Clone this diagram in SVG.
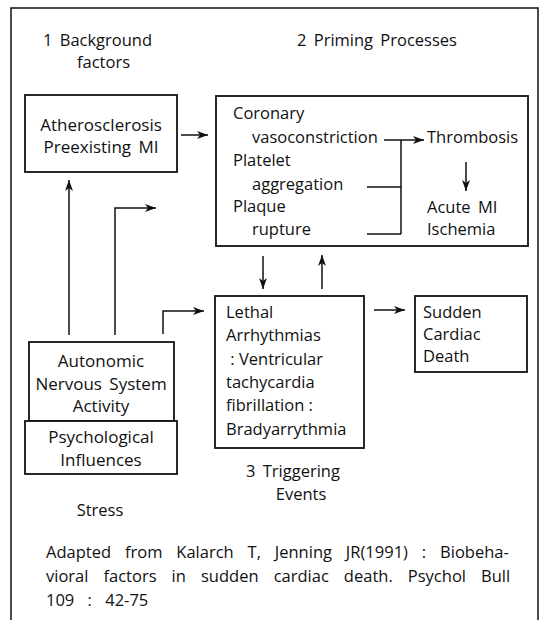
<svg xmlns="http://www.w3.org/2000/svg" width="544" height="620" viewBox="0 0 544 620">
<style>
text{font-family:"Open Sans","Noto Sans","DejaVu Sans",sans-serif;font-size:16.5px;fill:#111}
.c{text-anchor:middle}
.big{font-size:17px}
.box{fill:#fff;stroke:#111;stroke-width:1.8}
.ln{fill:none;stroke:#111;stroke-width:1.5}
.frame{fill:none;stroke:#111;stroke-width:1.5}
</style>
<defs>
<marker id="ah" markerUnits="userSpaceOnUse" markerWidth="12" markerHeight="10" refX="11" refY="5" orient="auto">
<path d="M0,1 L11,5 L0,9 L3,5 z" fill="#111"/>
</marker>
</defs>
<rect width="544" height="620" fill="#fff"/>
<path class="frame" d="M11,620 V8 H538 V620"/>
<g id="labels">
<text x="43" y="46" word-spacing="3">1 Background</text>
<text x="77" y="68">factors</text>
<text x="297" y="46" word-spacing="3">2 Priming Processes</text>
<text x="293" y="477" class="c" word-spacing="3">3 Triggering</text>
<text x="301" y="500" class="c">Events</text>
<text x="100" y="516" class="c">Stress</text>
</g>
<g id="node-background">
<rect class="box" x="25" y="95" width="152" height="77"/>
<text x="101" y="131" class="c big">Atherosclerosis</text>
<text x="101" y="153" class="c big" word-spacing="3">Preexisting MI</text>
</g>
<g id="node-priming">
<rect class="box" x="216" y="96" width="312" height="150"/>
<text x="233" y="119">Coronary</text>
<text x="252" y="143">vasoconstriction</text>
<text x="233" y="166">Platelet</text>
<text x="252" y="190">aggregation</text>
<text x="233" y="212">Plaque</text>
<text x="252" y="235">rupture</text>
<text x="427" y="143">Thrombosis</text>
<text x="427" y="213" word-spacing="3">Acute MI</text>
<text x="427" y="235">Ischemia</text>
</g>
<g id="node-triggering">
<rect class="box" x="215" y="296" width="149" height="152"/>
<text x="226" y="318">Lethal</text>
<text x="226" y="341">Arrhythmias</text>
<text x="226" y="365" xml:space="preserve"> : Ventricular</text>
<text x="226" y="388">tachycardia</text>
<text x="226" y="411">fibrillation :</text>
<text x="226" y="435">Bradyarrythmia</text>
</g>
<g id="node-death">
<rect class="box" x="415" y="296" width="112" height="76"/>
<text x="423" y="318">Sudden</text>
<text x="423" y="340">Cardiac</text>
<text x="423" y="362">Death</text>
</g>
<g id="node-autonomic">
<rect class="box" x="29" y="342" width="145" height="79"/>
<text x="101" y="367" class="c big">Autonomic</text>
<text x="101" y="390" class="c big" word-spacing="3">Nervous System</text>
<text x="101" y="412" class="c big">Activity</text>
</g>
<g id="node-psych">
<rect class="box" x="25" y="421" width="152" height="53"/>
<text x="101" y="443" class="c big">Psychological</text>
<text x="101" y="466" class="c big">Influences</text>
</g>
<g id="connectors">
<path class="ln" d="M181,135 H208" marker-end="url(#ah)"/>
<path class="ln" d="M69,335 V180" marker-end="url(#ah)"/>
<path class="ln" d="M115,335 V208 H156" marker-end="url(#ah)"/>
<path class="ln" d="M163,334 V311 H204" marker-end="url(#ah)"/>
<path class="ln" d="M384,140 H424" marker-end="url(#ah)"/>
<path class="ln" d="M401,140 V234 M367,187 H401 M367,234 H401"/>
<path class="ln" d="M466,162 V191" marker-end="url(#ah)"/>
<path class="ln" d="M263,256 V289" marker-end="url(#ah)"/>
<path class="ln" d="M322,289 V255" marker-end="url(#ah)"/>
<path class="ln" d="M374,310 H405" marker-end="url(#ah)"/>
</g>
<g id="citation">
<text x="46" y="558" word-spacing="9.6">Adapted from Kalarch T, Jenning JR(1991) : Biobeha-</text>
<text x="46" y="582" word-spacing="10.8">vioral factors in sudden cardiac death. Psychol Bull</text>
<text x="46" y="606" word-spacing="9">109 : 42-75</text>
</g>
</svg>
